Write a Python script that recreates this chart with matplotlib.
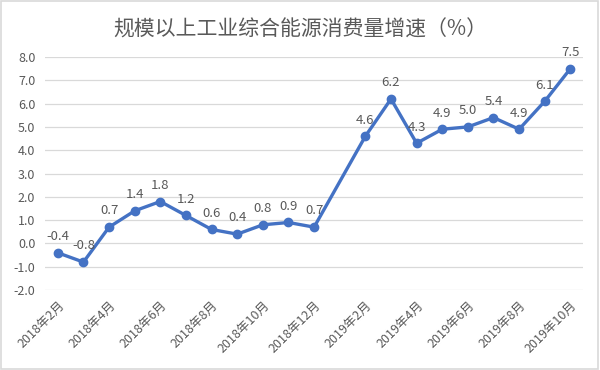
import numpy as np
import matplotlib.pyplot as plt

plt.rcParams['font.family'] = ['Noto Sans CJK SC', 'DejaVu Sans']

# 数据（2019年1月无数据）
months = ['2018年2月', '2018年3月', '2018年4月', '2018年5月', '2018年6月', '2018年7月',
          '2018年8月', '2018年9月', '2018年10月', '2018年11月', '2018年12月',
          '2019年1月', '2019年2月', '2019年3月', '2019年4月', '2019年5月',
          '2019年6月', '2019年7月', '2019年8月', '2019年9月', '2019年10月']
growth = [-0.4, -0.8, 0.7, 1.4, 1.8, 1.2, 0.6, 0.4, 0.8, 0.9, 0.7,
          None, 4.6, 6.2, 4.3, 4.9, 5.0, 5.4, 4.9, 6.1, 7.5]
title = '规模以上工业综合能源消费量增速（%）'

txt = '#595959'
blue = '#4472C4'

fig = plt.figure(figsize=(6, 3.7), dpi=100)
ax = fig.add_axes([0.075, 0.216, 0.897, 0.63])

x = np.array([i for i, v in enumerate(growth) if v is not None])
y = np.array([v for v in growth if v is not None])
ax.plot(x, y, color=blue, lw=2.4, marker='o', ms=6, zorder=3)

for xi, yi in zip(x, y):
    ax.annotate(f'{yi:.1f}', (xi, yi), xytext=(0, 7), textcoords='offset points',
                ha='center', va='bottom', fontsize=9.5, color=txt)

ax.set_xlim(-0.5, len(months) - 0.5)
ax.set_ylim(-2, 8)
ax.set_yticks(np.arange(-2, 8.1, 1))
ax.set_yticklabels([f'{v:.1f}' for v in np.arange(-2, 8.1, 1)])
ax.set_xticks(range(0, len(months), 2))
ax.set_xticklabels(months[::2], rotation=45, ha='right', rotation_mode='anchor')
ax.tick_params(axis='both', length=0, labelsize=9, colors=txt)
ax.tick_params(axis='x', pad=6)
ax.tick_params(axis='y', pad=7)
ax.grid(axis='y', color='#d9d9d9', lw=0.9)
ax.set_axisbelow(True)
for s in ax.spines.values():
    s.set_visible(False)

fig.text(0.5, 0.92, title, ha='center', va='center', fontsize=15, color=txt)
fig.patches.append(plt.Rectangle((0.002, 0.003), 0.995, 0.994, transform=fig.transFigure,
                                 fill=False, edgecolor='#d9d9d9', lw=1.2))

fig.savefig('out.png', dpi=100)
